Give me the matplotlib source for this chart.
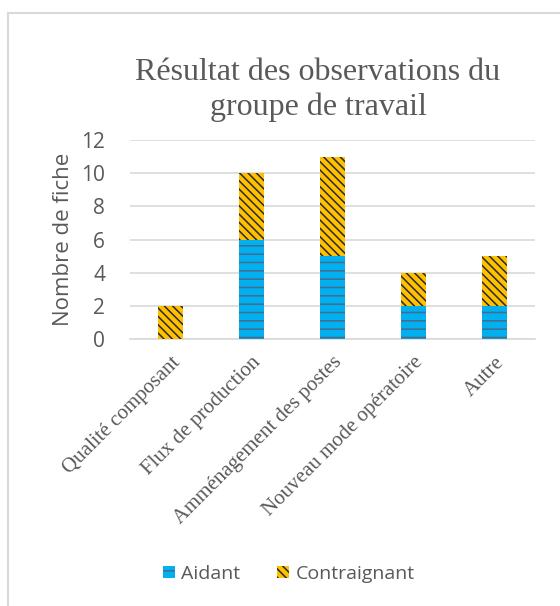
import matplotlib
matplotlib.use("Agg")
import matplotlib.pyplot as plt
from matplotlib.patches import Rectangle
import numpy as np

plt.rcParams['hatch.linewidth'] = 1.1

categories = ["Qualité composant", "Flux de production", "Amménagement des postes",
              "Nouveau mode opératoire", "Autre"]
aidant = [0, 6, 5, 2, 2]
contraignant = [2, 4, 6, 2, 3]
yticks = [0, 2, 4, 6, 8, 10, 12]

W, H = 560, 606
fig = plt.figure(figsize=(W/100, H/100), dpi=100)
fig.patch.set_facecolor('white')

# chart area border (cropped: only left/top visible)
fig.patches.append(Rectangle((8/W, -0.1), 1.2, 1 - 13/H + 0.1, transform=fig.transFigure,
                             fill=False, edgecolor='#D9D9D9', linewidth=1.5))

ax = fig.add_axes([130/W, 1 - 339/H, (535-130)/W, (339-140)/H])
x = np.arange(len(categories))
bw = 0.31
b1 = ax.bar(x, aidant, bw, color='#00B0F0', edgecolor='#4A6A8A', hatch='--',
            linewidth=0, label='Aidant', zorder=3)
b2 = ax.bar(x, contraignant, bw, bottom=aidant, color='#FFC000', edgecolor='#2a2a2a',
            hatch='\\\\\\\\', linewidth=0, label='Contraignant', zorder=3)

ax.set_ylim(0, 12)
ax.set_xlim(-0.5, len(categories) - 0.5)
ax.set_yticks(yticks)
ax.yaxis.grid(True, color='#D9D9D9', linewidth=1.2, zorder=0)
ax.set_axisbelow(True)
for s in ['top', 'right', 'left']:
    ax.spines[s].set_visible(False)
ax.spines['bottom'].set_color('#D9D9D9')
ax.spines['bottom'].set_linewidth(1.2)
ax.tick_params(axis='both', length=0)
ax.tick_params(axis='y', labelsize=15, labelcolor='#595959', pad=18)
for lab in ax.get_yticklabels():
    lab.set_family('Open Sans')
ax.set_xticks(x)
ax.set_xticklabels(categories, rotation=45, ha='right', rotation_mode='anchor',
                   family='Liberation Serif', fontsize=15, color='#595959')
ax.tick_params(axis='x', pad=10)
ax.set_ylabel('Nombre de fiche', family='Open Sans', fontsize=16, color='#595959', labelpad=5)

fig.text(318/W, 1 - 90/H, "Résultat des observations du\ngroupe de travail",
         ha='center', va='center', family='Liberation Serif', fontsize=23,
         color='#595959', linespacing=1.2)

leg = fig.legend(handles=[b1, b2], loc='center', bbox_to_anchor=(289/W, 1 - 574/H),
                 ncol=2, frameon=False, prop={'family': 'Open Sans', 'size': 14},
                 handlelength=0.6, handleheight=0.6, columnspacing=1.9, handletextpad=0.35)
for t in leg.get_texts():
    t.set_color('#595959')

fig.savefig('out.png', dpi=100, facecolor='white')
